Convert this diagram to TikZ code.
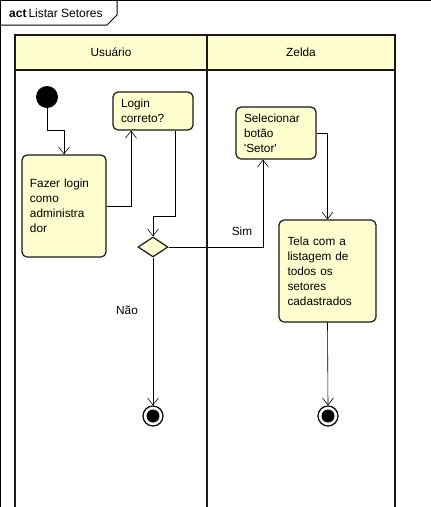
\documentclass[tikz,border=0pt]{standalone}
\usepackage{fontspec}
\setmainfont{Liberation Sans}
\usepackage{tikz}
\usetikzlibrary{shapes.geometric, arrows.meta, positioning, calc}
\definecolor{umlyellow}{HTML}{FEFECE}
\definecolor{umlborder}{HTML}{181818}

\begin{document}
\begin{tikzpicture}[x=1pt, y=-1pt,
  acao/.style={draw=umlborder, fill=umlyellow, line width=1.2pt, rounded corners=5pt,
               font=\fontsize{11.8}{15}\selectfont, align=left, inner sep=0pt},
  decisao/.style={draw=umlborder, fill=umlyellow, line width=1.2pt, diamond, aspect=1.5,
                  minimum width=30pt, minimum height=20pt, inner sep=0pt},
  inicio/.style={circle, fill=black, minimum size=22pt, inner sep=0pt},
  fim/.style={circle, draw=black, line width=1.2pt, fill=white, minimum size=20pt, inner sep=0pt,
              path picture={\fill[black] (path picture bounding box.center) circle (6.5pt);}},
  raia/.style={draw=umlborder, line width=1.5pt},
  rotulo/.style={font=\fontsize{11.8}{14}\selectfont},
  arrow/.style={-{Straight Barb[length=7pt, width=11pt]}, line width=0.6pt}
]
  \useasboundingbox (0,0) rectangle (431,507);
  \begin{scope}
    \clip (0,0) rectangle (431,507);
    % moldura e aba do titulo
    \draw[line width=1.2pt] (0.5,507) -- (0.5,0.5) -- (431,0.5);
    \draw[line width=1pt] (0.5,25) -- (107,25) -- (117,15) -- (117,0.5);
    % raias
    \fill[umlyellow] (15,35) rectangle (395,70);
    \draw[raia] (15,507) -- (15,35) -- (395,35) -- (395,507);
    \draw[raia] (207,35) -- (207,507);
    \draw[raia] (15,70) -- (395,70);
  \end{scope}
  \node[anchor=west, font=\fontsize{12}{14}\selectfont, inner sep=0pt] (titulo) at (9,13.5) {\textbf{act}\,Listar Setores};
  \node[rotulo] (usuario) at (111,52) {Usuário};
  \node[rotulo] (zelda) at (301,52) {Zelda};

  \node[inicio] (comeco) at (47,97) {};
  \node[acao, minimum width=80pt, minimum height=38pt, text width=64pt] (login) at (153,111) {Login\\correto?};
  \node[acao, minimum width=84pt, minimum height=102pt, text width=68pt] (fazer) at (64,206) {Fazer login\\como\\administra\\dor};
  \node[decisao] (escolha) at (153,247) {};
  \node[acao, minimum width=80pt, minimum height=52pt, text width=64pt] (selecionar) at (276,133) {Selecionar\\botão\\\textquotesingle Setor\textquotesingle};
  \node[acao, minimum width=97pt, minimum height=102pt, text width=80pt] (tela) at (327.5,271) {Tela com a\\listagem de\\todos os\\setores\\cadastrados};
  \node[fim] (fimusuario) at (153,416) {};
  \node[fim] (fimzelda) at (328,416) {};

  \draw[arrow] (comeco.south) -- ++(0,22) -| (fazer.north);
  \draw[arrow] (fazer.east) -| ([xshift=-22pt]login.south);
  \draw[arrow] ([xshift=22pt]login.south) |- ([yshift=20pt]escolha.north) -- (escolha.north);
  \draw[arrow] (escolha.east) -| ([xshift=-13pt]selecionar.south);
  \draw[arrow] (selecionar.east) -| (tela.north);
  \draw[arrow] (escolha.south) -- (fimusuario.north);
  \draw[arrow] (tela.south) -- (fimzelda.north);

  \node[rotulo] (sim) at (242,231) {Sim};
  \node[rotulo] (nao) at (127,310) {Não};
\end{tikzpicture}
\end{document}
